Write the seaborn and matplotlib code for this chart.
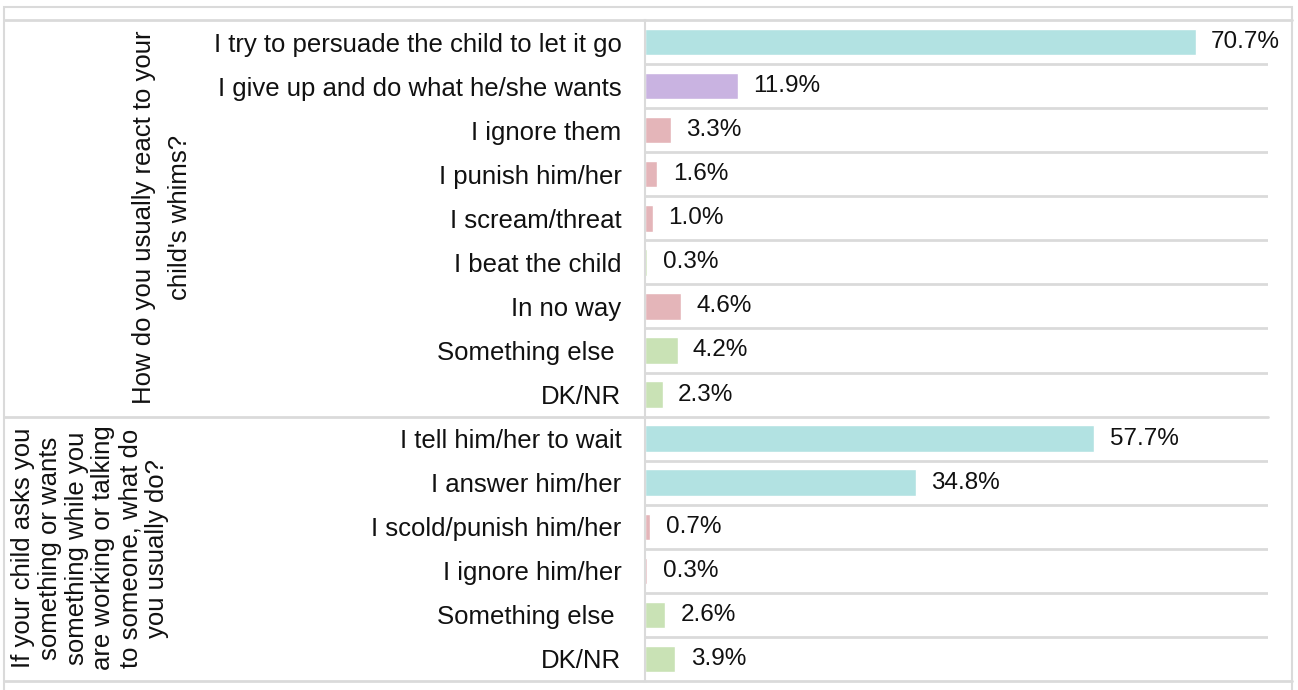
import matplotlib.pyplot as plt
import numpy as np
import pandas as pd
import seaborn as sns

# Survey answers, top to bottom
answers = [
    "I try to persuade the child to let it go",
    "I give up and do what he/she wants",
    "I ignore them",
    "I punish him/her",
    "I scream/threat",
    "I beat the child",
    "In no way",
    "Something else ",
    "DK/NR",
    "I tell him/her to wait",
    "I answer him/her",
    "I scold/punish him/her",
    "I ignore him/her",
    "Something else ",
    "DK/NR",
]
shares = [70.7, 11.9, 3.3, 1.6, 1.0, 0.3, 4.6, 4.2, 2.3,
          57.7, 34.8, 0.7, 0.3, 2.6, 3.9]
kinds = ["calm", "yield", "harsh", "harsh", "harsh", "other", "harsh", "other", "other",
         "calm", "calm", "harsh", "harsh", "other", "other"]
questions = [
    "How do you usually react to your\nchild's whims?",
    "If your child asks you\nsomething or wants\nsomething while you\nare working or talking\nto someone, what do\nyou usually do?",
]
group_sizes = [9, 6]

palette = {"calm": "#b2e2e2", "yield": "#c9b3e1", "harsh": "#e4b5b9", "other": "#c9e2b5"}
grid_color = "#dadada"

W, H = 1298, 690

def main() -> None:
    """Draw the chart"""
    sns.set_theme(style="white")
    plt.rcParams["font.family"] = ["Liberation Sans", "DejaVu Sans"]

    rows = [str(i) for i in range(len(answers))]
    df = pd.DataFrame({"row": rows, "share": shares, "kind": kinds})

    fig = plt.figure(figsize=(W / 100, H / 100), dpi=100)
    ax = fig.add_axes([645 / W, 1 - 681 / H, (1268 - 645) / W, (681 - 20) / H])

    sns.barplot(
        data=df, x="share", y="row", hue="kind", order=rows,
        palette=palette, dodge=False, legend=False, width=0.6,
        saturation=1, ax=ax,
    )
    for container in ax.containers:
        ax.bar_label(container, fmt="{:.1f}%", padding=11, fontsize=17.5, color="#111111")

    ax.set_xlim(0, 80)
    ax.set_ylim(len(rows) - 0.5, -0.5)
    ax.set_xlabel("")
    ax.set_ylabel("")
    ax.set_xticks([])
    ax.set_yticks(range(len(rows)), answers)
    ax.tick_params(axis="y", length=0, pad=17)
    for label in ax.get_yticklabels():
        label.set_fontsize(18.5)
        label.set_color("#111111")

    for side in ["top", "right", "bottom"]:
        ax.spines[side].set_visible(False)
    ax.spines["left"].set_color(grid_color)
    ax.spines["left"].set_linewidth(1.5)

    # Row separators
    bounds = np.cumsum(group_sizes)[:-1] - 0.5
    for y in np.arange(0.5, len(rows) - 1):
        if y in bounds:
            ax.axhline(y, xmin=-(645 - 5) / (1268 - 645), xmax=1,
                       color=grid_color, lw=2, clip_on=False)
        else:
            ax.axhline(y, color=grid_color, lw=2)

    # Top and bottom rules, outer frame
    for ypx in [20, 681]:
        fig.add_artist(plt.Line2D([5 / W, 1292 / W], [1 - ypx / H] * 2,
                                  transform=fig.transFigure, color=grid_color, lw=2))
    fig.add_artist(plt.Rectangle((4 / W, -0.02), (1292 - 4) / W, 1.02 - 7 / H,
                                 transform=fig.transFigure, fill=False,
                                 ec=grid_color, lw=1.5))

    # Question labels
    centers = [(162, 217), (90, 548)]
    spacings = [1.6, 1.15]
    for text, (cx, cy), ls in zip(questions, centers, spacings):
        fig.text(cx / W, 1 - cy / H, text, rotation=90, ha="center", va="center",
                 multialignment="center", fontsize=18.5, linespacing=ls,
                 color="#111111")

    fig.savefig("out.png", dpi=100)
    plt.close(fig)

if __name__ == "__main__":
    main()
